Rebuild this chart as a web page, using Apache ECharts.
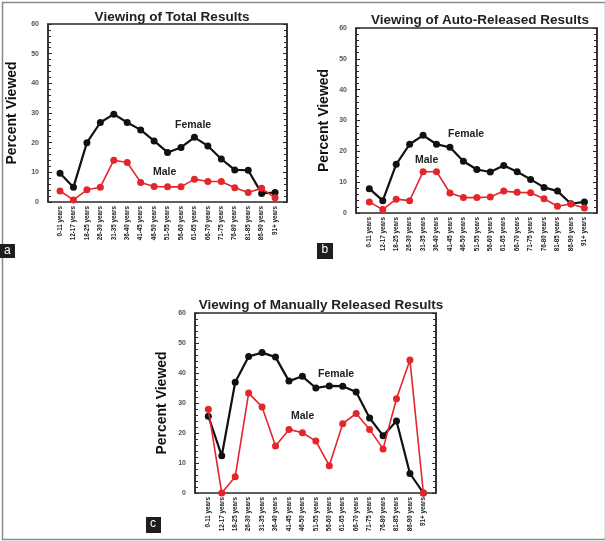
<!DOCTYPE html>
<html>
<head>
<meta charset="utf-8">
<script src="https://cdn.jsdelivr.net/npm/echarts@6/dist/echarts.min.js"></script>
<style>html,body{margin:0;padding:0;background:#fff}#c{width:605px;height:541px}</style>
</head>
<body>
<div id="c"></div>
<script>
const categories = ['0-11 years','12-17 years','18-25 years','26-30 years','31-35 years','36-40 years','41-45 years','46-50 years','51-55 years','56-60 years','61-65 years','66-70 years','71-75 years','76-80 years','81-85 years','86-90 years','91+ years'];
const totalFemale  = [9.7, 5.0, 20.0, 26.8, 29.6, 26.8, 24.3, 20.6, 16.7, 18.4, 21.8, 18.9, 14.5, 10.8, 10.7, 2.9, 3.2];
const totalMale    = [3.7, 0.7, 4.1, 5.0, 14.1, 13.3, 6.6, 5.2, 5.1, 5.1, 7.7, 6.9, 6.9, 4.8, 3.2, 4.6, 1.4];
const autoFemale   = [7.9, 4.0, 15.8, 22.3, 25.2, 22.3, 21.3, 16.8, 14.1, 13.3, 15.4, 13.4, 10.9, 8.3, 7.1, 3.0, 3.6];
const autoMale     = [3.6, 1.1, 4.5, 4.0, 13.4, 13.4, 6.5, 5.0, 5.0, 5.2, 7.1, 6.7, 6.6, 4.6, 2.2, 2.9, 1.6];
const manualFemale = [25.6, 12.4, 36.9, 45.5, 46.8, 45.3, 37.3, 38.9, 35.0, 35.7, 35.6, 33.7, 25.0, 19.1, 24.0, 6.5, 0];
const manualMale   = [27.9, 0, 5.4, 33.3, 28.7, 15.7, 21.2, 20.1, 17.3, 9.1, 23.1, 26.5, 21.2, 14.7, 31.4, 44.3, 0];
const titles = ['Viewing of Total Results','Viewing of Auto-Released Results','Viewing of Manually Released Results'];
const panelLetters = ['a','b','c'];
const yTickMin = 0, yTickMax = 60, yTickStep = 10;

const panels = [
  {frame:{left:48, top:24, width:239, height:178}, data:{left:53.3, width:228.5}, title:{x:167, y:5}, nameGap:29,
   f: totalFemale, m: totalMale, fl:[193,126], ml:[165,173], box:[0,244,15,14]},
  {frame:{left:356, top:28, width:241, height:185}, data:{left:362.6, width:228.5}, title:{x:475, y:8}, nameGap:25,
   f: autoFemale, m: autoMale, fl:[466,135], ml:[427,161], box:[317,243,16,16]},
  {frame:{left:195, top:313, width:241, height:180}, data:{left:201.6, width:228.5}, title:{x:316, y:293}, nameGap:26,
   f: manualFemale, m: manualMale, fl:[336,375], ml:[303,417], box:[146,517,15,16]}
];

const grid = [], xAxis = [], yAxis = [], series = [], title = [], graphic = [];
panels.forEach((p, i) => {
  grid.push({left:p.frame.left, top:p.frame.top, width:p.frame.width, height:p.frame.height, show:true, borderColor:'#2a2a2a', borderWidth:1.5, backgroundColor:'transparent'});
  grid.push({left:p.data.left, top:p.frame.top, width:p.data.width, height:p.frame.height});
  xAxis.push({type:'value', gridIndex:2*i, show:false, min:0, max:1});
  xAxis.push({type:'category', gridIndex:2*i+1, data:categories, boundaryGap:true,
    axisLine:{show:false}, axisTick:{show:false},
    axisLabel:{rotate:90, interval:0, fontSize:6.3, fontWeight:'bold', color:'#222', margin:4, fontFamily:'Liberation Sans, Arial'}});
  const yBase = {type:'value', min:yTickMin, max:yTickMax, interval:yTickStep, splitLine:{show:false},
    axisLine:{show:true, lineStyle:{color:'#2a2a2a', width:1.5}},
    axisTick:{show:true, inside:true, length:4, lineStyle:{color:'#2a2a2a'}},
    minorTick:{show:true, splitNumber:5, length:3, lineStyle:{color:'#2a2a2a'}}};
  yAxis.push(Object.assign({}, yBase, {gridIndex:2*i, position:'left',
    axisLabel:{fontSize:7, color:'#555', fontWeight:'bold', margin:9, fontFamily:'Liberation Sans, Arial'},
    name:'Percent Viewed', nameLocation:'middle', nameRotate:90, nameGap:p.nameGap,
    nameTextStyle:{fontSize:14, fontWeight:'bold', color:'#111', fontFamily:'Liberation Sans, Arial'}}));
  yAxis.push(Object.assign({}, yBase, {gridIndex:2*i, position:'right', axisLabel:{show:false}}));
  yAxis.push({type:'value', gridIndex:2*i+1, min:yTickMin, max:yTickMax, show:false});
  series.push({type:'line', name:'Female', xAxisIndex:2*i+1, yAxisIndex:3*i+2, data:p.f,
    symbol:'circle', symbolSize:7, itemStyle:{color:'#111'}, lineStyle:{color:'#111', width:2.2}, animation:false, z:3});
  series.push({type:'line', name:'Male', xAxisIndex:2*i+1, yAxisIndex:3*i+2, data:p.m,
    symbol:'circle', symbolSize:7, itemStyle:{color:'#e3262b'}, lineStyle:{color:'#e3262b', width:1.6}, animation:false, z:4});
  title.push({text:titles[i], left:p.title.x, top:p.title.y, textAlign:'center',
    textStyle:{fontSize:13.5, fontWeight:'bold', color:'#222', fontFamily:'Liberation Sans, Arial'}});
  graphic.push({type:'text', left:p.fl[0]-18, top:p.fl[1]-6, style:{text:'Female', fontSize:10.5, fontWeight:'bold', fill:'#222', fontFamily:'Liberation Sans, Arial'}});
  graphic.push({type:'text', left:p.ml[0]-12, top:p.ml[1]-6, style:{text:'Male', fontSize:10.5, fontWeight:'bold', fill:'#222', fontFamily:'Liberation Sans, Arial'}});
  graphic.push({type:'rect', left:p.box[0], top:p.box[1], shape:{width:p.box[2], height:p.box[3]}, style:{fill:'#1e1e1e'}});
  graphic.push({type:'text', left:p.box[0]+p.box[2]/2-3.5, top:p.box[1]+1, style:{text:panelLetters[i], fontSize:12, fill:'#fff', fontFamily:'Liberation Sans, Arial'}});
});
graphic.push({type:'rect', left:0, top:0, shape:{x:0.5, y:0.5, width:603, height:537}, style:{fill:'none', stroke:'#8a8a8a', lineWidth:1.5}, z:-1});

const chart = echarts.init(document.getElementById('c'), null, {renderer:'canvas'});
chart.setOption({animation:false, backgroundColor:'#fff', title, grid, xAxis, yAxis, series, graphic});
</script>
</body>
</html>
